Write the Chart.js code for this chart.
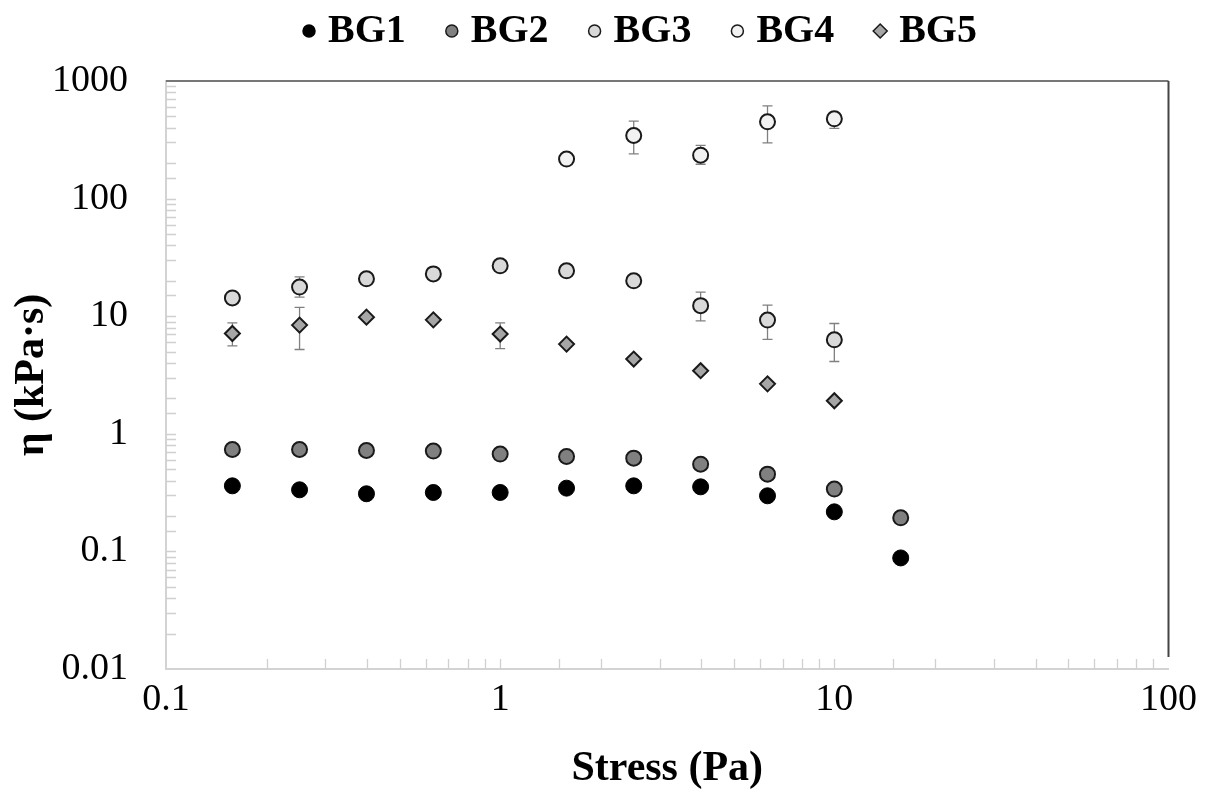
<!DOCTYPE html>
<html>
<head>
<meta charset="utf-8">
<script src="https://cdn.jsdelivr.net/npm/chart.js@4.4.1/dist/chart.umd.min.js"></script>
<style>
  html, body { margin: 0; padding: 0; background: #fff; }
  #wrap { width: 1205px; height: 794px; }
</style>
</head>
<body>
<div id="wrap"><canvas id="chart" width="1205" height="794"></canvas></div>
<script>
// stress values (Pa)
const stress = [0.158, 0.251, 0.398, 0.631, 1, 1.58, 2.51, 3.98, 6.31, 10, 15.8];

// viscosity, kPa·s
const bg1 = [0.361, 0.334, 0.309, 0.317, 0.317, 0.345, 0.361, 0.354, 0.297, 0.217, 0.088];
const bg2 = [0.735, 0.735, 0.721, 0.713, 0.672, 0.641, 0.621, 0.552, 0.454, 0.339, 0.193];
const bg3 = [14.3, 17.7, 20.8, 22.9, 26.8, 24.3, 20.0, 12.3, 9.27, 6.30];
const bg4Stress = [1.58, 2.51, 3.98, 6.31, 10];
const bg4 = [217, 344, 234, 450, 477];
const bg5 = [7.13, 8.40, 9.82, 9.31, 7.05, 5.79, 4.32, 3.44, 2.66, 1.91];

// error bar ends (null = no bar drawn)
const bg3Low  = [null, 14.5, null, null, null, null, null, 9.14, 6.34, 4.12];
const bg3High = [null, 21.6, null, null, null, null, null, 16.0, 12.4, 8.67];
const bg4Low  = [null, 240, 196, 298, 395];
const bg4High = [null, 456, 283, 615, 540];
const bg5Low  = [5.60, 5.21, null, null, 5.31, null, null, null, null, null];
const bg5High = [8.79, 11.9, null, null, 8.79, null, null, null, null, null];

const seriesNames = ["BG1", "BG2", "BG3", "BG4", "BG5"];
const xTickLabels = [0.1, 1, 10, 100];
const yTickLabels = [0.01, 0.1, 1, 10, 100, 1000];

const SERIF = "'Liberation Serif', 'Times New Roman', serif";

function toPoints(xs, ys, lo, hi) {
  return ys.map((y, i) => ({ x: xs[i], y: y, lo: lo ? lo[i] : null, hi: hi ? hi[i] : null }));
}

function isPower(v, list) {
  return list.some(t => Math.abs(t - v) / t < 1e-6);
}

const errorBars = {
  id: "errorBars",
  beforeDatasetsDraw(chart) {
    const { ctx, scales: { x, y } } = chart;
    ctx.save();
    ctx.strokeStyle = "#808080";
    ctx.lineWidth = 1.3;
    for (const ds of chart.data.datasets) {
      for (const p of ds.data) {
        if (p.lo == null || p.hi == null) continue;
        const px = x.getPixelForValue(p.x);
        const yl = y.getPixelForValue(p.lo);
        const yh = y.getPixelForValue(p.hi);
        ctx.beginPath();
        ctx.moveTo(px, yl); ctx.lineTo(px, yh);
        ctx.moveTo(px - 5, yl); ctx.lineTo(px + 5, yl);
        ctx.moveTo(px - 5, yh); ctx.lineTo(px + 5, yh);
        ctx.stroke();
      }
    }
    ctx.restore();
  }
};

const frame = {
  id: "frame",
  afterDraw(chart) {
    const { ctx, chartArea: a, scales: { x, y } } = chart;
    ctx.save();
    // inner minor ticks
    ctx.strokeStyle = "#d0d0d0";
    ctx.lineWidth = 1.3;
    ctx.beginPath();
    for (const t of x.ticks) {
      const px = Math.round(x.getPixelForValue(t.value)) + 0.5;
      if (px <= a.left + 1 || px >= a.right - 1) continue;
      ctx.moveTo(px, a.bottom); ctx.lineTo(px, a.bottom - 10);
    }
    for (const t of y.ticks) {
      const py = Math.round(y.getPixelForValue(t.value)) + 0.5;
      if (py <= a.top + 1 || py >= a.bottom - 1) continue;
      ctx.moveTo(a.left, py); ctx.lineTo(a.left + 10, py);
    }
    ctx.stroke();
    // top and right border
    ctx.lineWidth = 2;
    ctx.strokeStyle = "#777";
    ctx.beginPath();
    ctx.moveTo(a.left, a.top); ctx.lineTo(a.right, a.top);
    ctx.stroke();
    ctx.strokeStyle = "#444";
    ctx.beginPath();
    ctx.moveTo(a.right, a.top); ctx.lineTo(a.right, a.bottom - 12);
    ctx.stroke();
    ctx.restore();
  }
};

function drawMarker(ctx, ds, cx, cy, r) {
  ctx.beginPath();
  if (ds.pointStyle === "rectRot") {
    ctx.moveTo(cx - r, cy); ctx.lineTo(cx, cy - r); ctx.lineTo(cx + r, cy); ctx.lineTo(cx, cy + r);
    ctx.closePath();
  } else {
    ctx.arc(cx, cy, r, 0, Math.PI * 2);
  }
  ctx.fillStyle = ds.backgroundColor;
  ctx.fill();
  ctx.lineWidth = 1.5;
  ctx.strokeStyle = ds.borderColor;
  ctx.stroke();
}

const topLegend = {
  id: "topLegend",
  afterDraw(chart) {
    const { ctx } = chart;
    const sets = chart.data.datasets;
    ctx.save();
    ctx.font = "bold 40px " + SERIF;
    ctx.textBaseline = "middle";
    ctx.fillStyle = "#000";
    const toText = 19, gap = 46, half = 6;
    const widths = sets.map(d => ctx.measureText(d.label).width);
    let total = 0;
    widths.forEach((w, i) => { total += half + toText + w + (i < widths.length - 1 ? gap - half : 0); });
    let cx = 640 - total / 2 + half;
    const cy = 31;
    sets.forEach((ds, i) => {
      drawMarker(ctx, ds, cx, cy, ds.pointStyle === "rectRot" ? 7 : 6);
      ctx.fillStyle = "#000";
      ctx.fillText(ds.label, cx + toText, cy + 1);
      cx += toText + widths[i] + gap;
    });
    ctx.restore();
  }
};

const ring = "#1a1a1a";

new Chart(document.getElementById("chart"), {
  type: "scatter",
  data: {
    datasets: [
      { label: seriesNames[0], data: toPoints(stress, bg1), backgroundColor: "#000", borderColor: "#000",
        pointStyle: "circle", pointRadius: 8, pointBorderWidth: 1 },
      { label: seriesNames[1], data: toPoints(stress, bg2), backgroundColor: "#808080", borderColor: ring,
        pointStyle: "circle", pointRadius: 7.5, pointBorderWidth: 2 },
      { label: seriesNames[2], data: toPoints(stress, bg3, bg3Low, bg3High), backgroundColor: "#d9d9d9", borderColor: ring,
        pointStyle: "circle", pointRadius: 7.5, pointBorderWidth: 2 },
      { label: seriesNames[3], data: toPoints(bg4Stress, bg4, bg4Low, bg4High), backgroundColor: "#f2f2f2", borderColor: ring,
        pointStyle: "circle", pointRadius: 7.5, pointBorderWidth: 2 },
      { label: seriesNames[4], data: toPoints(stress, bg5, bg5Low, bg5High), backgroundColor: "#a6a6a6", borderColor: ring,
        pointStyle: "rectRot", pointRadius: 7.5, pointBorderWidth: 2 },
    ],
  },
  options: {
    responsive: false,
    animation: false,
    devicePixelRatio: 1,
    layout: { padding: { top: 81, right: 36, left: 0, bottom: 0 } },
    plugins: { legend: { display: false }, tooltip: { enabled: false } },
    scales: {
      x: {
        type: "logarithmic",
        min: 0.1,
        max: 100,
        afterFit(scale) { scale.height = 125; },
        grid: { display: false, drawTicks: false },
        border: { display: true, color: "#d3d3d3", width: 2 },
        ticks: {
          autoSkip: false,
          maxRotation: 0,
          padding: 8,
          color: "#000",
          font: { family: SERIF, size: 38 },
          callback: v => (isPower(v, xTickLabels) ? String(+Number(v).toPrecision(1)) : ""),
        },
        title: {
          display: true,
          text: "Stress (Pa)",
          color: "#000",
          font: { family: SERIF, size: 42, weight: "bold" },
          padding: { top: 0, bottom: 0 },
        },
      },
      y: {
        type: "logarithmic",
        min: 0.01,
        max: 1000,
        afterFit(scale) { scale.width = 166; },
        grid: { display: false, drawTicks: false },
        border: { display: true, color: "#d3d3d3", width: 2 },
        ticks: {
          autoSkip: false,
          padding: 38,
          color: "#000",
          font: { family: SERIF, size: 38 },
          callback: v => (isPower(v, yTickLabels) ? String(+Number(v).toPrecision(1)) : ""),
        },
        title: {
          display: true,
          text: "η (kPa·s)",
          color: "#000",
          font: { family: SERIF, size: 42, weight: "bold" },
          padding: { top: 7, bottom: 0 },
        },
      },
    },
  },
  plugins: [errorBars, frame, topLegend],
});
</script>
</body>
</html>
